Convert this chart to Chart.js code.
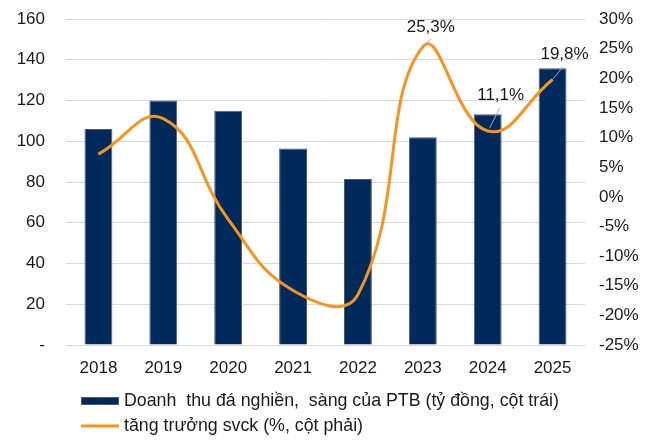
<!DOCTYPE html>
<html>
<head>
<meta charset="utf-8">
<style>
  html, body { margin: 0; padding: 0; background: #fff; }
  #wrap { width: 663px; height: 448px; position: relative; }
</style>
</head>
<body>
<div id="wrap"><canvas id="chart" width="663" height="448"></canvas></div>
<script src="https://cdn.jsdelivr.net/npm/chart.js@4.4.0/dist/chart.umd.min.js"></script>
<script>
// data
const years = ['2018', '2019', '2020', '2021', '2022', '2023', '2024', '2025'];
const revenue = [106, 120, 115, 96.5, 81.5, 102, 113.3, 135.8];
const growth = [7.2, 13.2, -3.8, -15.8, -16.5, 25.3, 11.1, 19.8];
const growthLabels = [null, null, null, null, null, '25,3%', '11,1%', '19,8%'];
const legendTexts = ['Doanh  thu đá nghiền,  sàng của PTB (tỷ đồng, cột trái)', 'tăng trưởng svck (%, cột phải)'];

const NAVY = '#002a5c';
const ORANGE = '#f7941d';
const FONT = '"Liberation Sans", Arial, sans-serif';

// label offsets from the point: text centre, then leader line start/end
const labelOffsets = {
    5: { tx: 8, ty: -20, lx1: 8, ly1: -8, lx2: 1, ly2: -1 },
    6: { tx: 13, ty: -36, lx1: 12, ly1: -23, lx2: 2, ly2: -3 },
    7: { tx: 12, ty: -25, lx1: 10, ly1: -12, lx2: 0, ly2: 0 },
};

const extras = {
    id: 'extras',
    afterDatasetsDraw(chart) {
        const ctx = chart.ctx;
        const meta = chart.getDatasetMeta(1);
        ctx.save();
        ctx.font = '17px ' + FONT;
        ctx.fillStyle = '#1a1a1a';
        ctx.textAlign = 'center';
        ctx.textBaseline = 'middle';
        growthLabels.forEach((txt, i) => {
            if (!txt) return;
            const p = meta.data[i];
            const o = labelOffsets[i];
            ctx.strokeStyle = '#a6a6a6';
            ctx.lineWidth = 1;
            ctx.beginPath();
            ctx.moveTo(p.x + o.lx1, p.y + o.ly1);
            ctx.lineTo(p.x + o.lx2, p.y + o.ly2);
            ctx.stroke();
            ctx.fillText(txt, p.x + o.tx, p.y + o.ty);
        });
        ctx.restore();
    },
    afterDraw(chart) {
        const ctx = chart.ctx;
        ctx.save();
        ctx.font = '17.8px ' + FONT;
        ctx.textBaseline = 'middle';
        ctx.textAlign = 'left';
        // bar entry
        ctx.fillStyle = NAVY;
        ctx.fillRect(81, 397, 38, 8);
        ctx.strokeStyle = '#595959';
        ctx.lineWidth = 1;
        ctx.strokeRect(81.5, 397.5, 37, 7);
        ctx.fillStyle = '#1a1a1a';
        ctx.fillText(legendTexts[0], 124, 401);
        // line entry
        ctx.strokeStyle = ORANGE;
        ctx.lineWidth = 3;
        ctx.beginPath();
        ctx.moveTo(81, 426);
        ctx.lineTo(119, 426);
        ctx.stroke();
        ctx.fillText(legendTexts[1], 124, 426);
        ctx.restore();
    }
};

function fixWidth(w) {
    return function (s) {
        s.width = w;
        s.paddingTop = 0;
        s.paddingBottom = 0;
    };
}

new Chart(document.getElementById('chart'), {
    type: 'bar',
    data: {
        labels: years,
        datasets: [
            {
                type: 'bar',
                label: legendTexts[0],
                data: revenue,
                backgroundColor: NAVY,
                borderColor: '#595959',
                borderWidth: 1,
                categoryPercentage: 1,
                barPercentage: 0.43,
                yAxisID: 'y',
                order: 1
            },
            {
                type: 'line',
                label: legendTexts[1],
                data: growth,
                borderColor: ORANGE,
                borderWidth: 3,
                pointRadius: 0,
                tension: 0.45,
                fill: false,
                clip: false,
                yAxisID: 'y1',
                order: 0
            }
        ]
    },
    options: {
        responsive: false,
        animation: false,
        layout: { padding: { top: 19, bottom: 68, left: 0, right: 0 } },
        plugins: { legend: { display: false }, tooltip: { enabled: false } },
        scales: {
            x: {
                grid: { display: false, drawTicks: false },
                border: { display: false },
                ticks: { color: '#1a1a1a', font: { family: FONT, size: 17 }, padding: 13 },
                afterFit(s) { s.height = 35; s.paddingLeft = 0; s.paddingRight = 0; }
            },
            y: {
                position: 'left',
                min: 0,
                max: 160,
                ticks: {
                    stepSize: 20,
                    color: '#1a1a1a',
                    font: { family: FONT, size: 17 },
                    padding: 21,
                    callback: v => v === 0 ? '-' : v
                },
                grid: { color: '#d9d9d9', lineWidth: 1, drawTicks: false },
                border: { display: false },
                afterFit: fixWidth(66)
            },
            y1: {
                position: 'right',
                min: -25,
                max: 30,
                ticks: {
                    stepSize: 5,
                    color: '#1a1a1a',
                    font: { family: FONT, size: 17 },
                    padding: 14,
                    callback: v => v + '%'
                },
                grid: { display: false, drawTicks: false },
                border: { display: false },
                afterFit: fixWidth(78)
            }
        }
    },
    plugins: [extras]
});
</script>
</body>
</html>
